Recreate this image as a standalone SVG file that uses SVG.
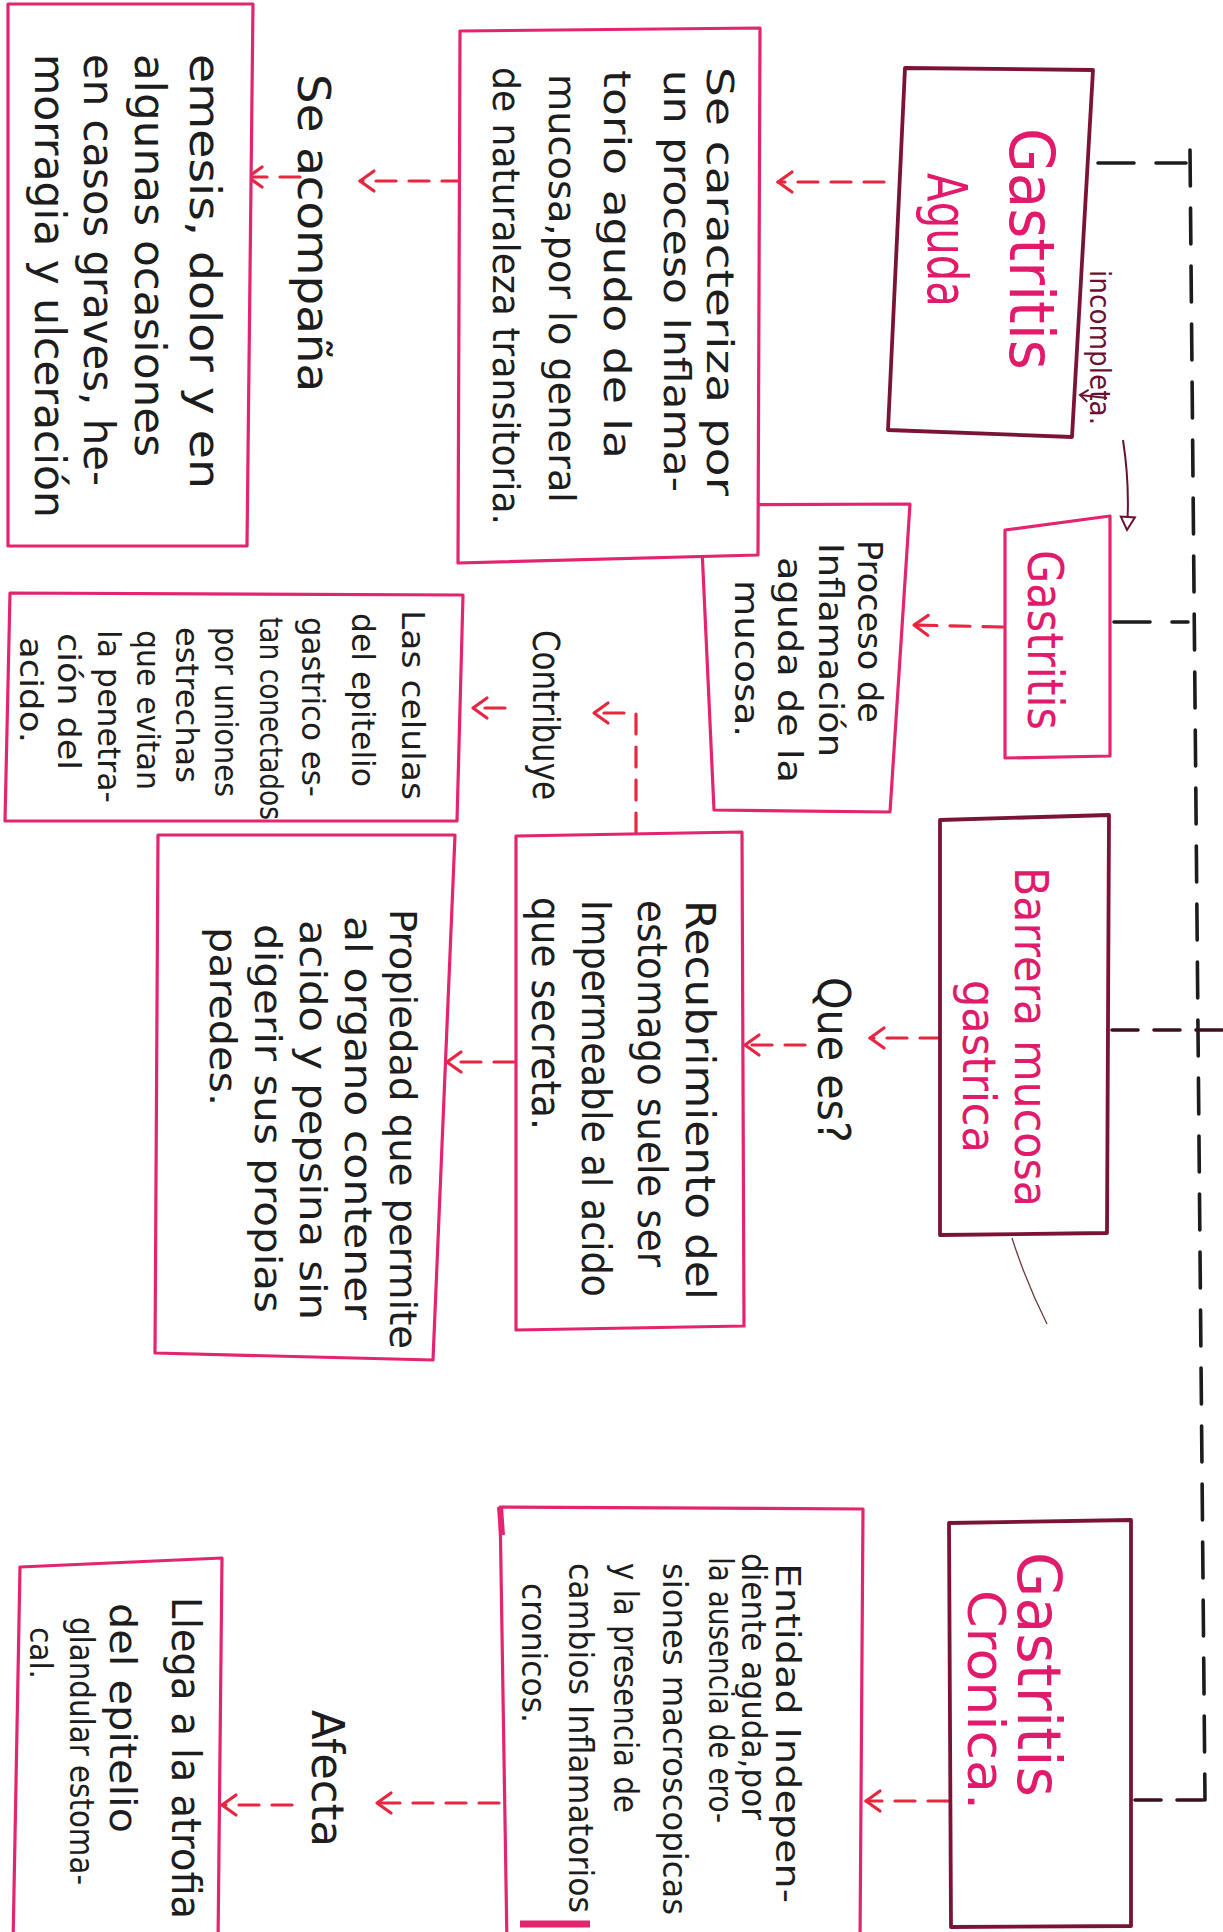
<svg xmlns="http://www.w3.org/2000/svg" width="1223" height="1932" viewBox="0 0 1223 1932">
<defs>
<style>
.bx{fill:#fff;stroke:#e3246e;stroke-width:3.2;stroke-linejoin:round}
.bm{fill:#fff;stroke:#7b1434;stroke-width:3.8;stroke-linejoin:round}
.t{font-family:"DejaVu Sans",sans-serif;fill:#1d1d1d}
.h{font-family:"DejaVu Sans",sans-serif;fill:#e21a6b}
.ra{fill:none;stroke:#e8263f;stroke-width:3.2;stroke-dasharray:20 13;stroke-linecap:round;marker-end:url(#ah)}
.bd{fill:none;stroke:#1c1c1c;stroke-width:3.6;stroke-dasharray:36 22;stroke-linecap:round}
.md{fill:none;stroke:#3a1020;stroke-width:3.6;stroke-dasharray:26 16;stroke-linecap:round}
</style>
<marker id="ah" markerUnits="userSpaceOnUse" markerWidth="26" markerHeight="26" refX="20" refY="13" orient="auto"><path d="M6,3 L20,13 L6,23" fill="none" stroke="#e8263f" stroke-width="3.2" stroke-linecap="round" stroke-linejoin="round"/></marker>
<marker id="tri" markerUnits="userSpaceOnUse" markerWidth="20" markerHeight="20" refX="16" refY="10" orient="auto"><path d="M3,3 L16,10 L3,17 Z" fill="#fff" stroke="#6b1030" stroke-width="2"/></marker>
<marker id="sm" markerUnits="userSpaceOnUse" markerWidth="16" markerHeight="16" refX="12" refY="8" orient="auto"><path d="M4,2 L12,8 L4,14" fill="none" stroke="#6b1030" stroke-width="2"/></marker>
</defs>
<rect x="0" y="0" width="1223" height="1932" fill="#fff"/>

<g id="connectors">
<path class="bd" d="M1190,150 L1205,1800"/>
<path class="bd" d="M1098,163 L1186,163"/>
<path class="bd" d="M1114,622 L1188,622"/>
<path class="md" d="M1112,1030 L1223,1030"/>
<path class="md" d="M1135,1800 L1203,1800"/>
<path class="ra" d="M884,182 L778,182"/>
<path class="ra" d="M462,181 L360,181"/>
<path class="ra" d="M300,177 L248,177"/>
<path class="ra" d="M1003,627 L914,625"/>
<path class="ra" d="M636,833 L636,713 L594,713"/>
<path class="ra" d="M505,708 L473,708"/>
<path class="ra" d="M940,1038 L870,1038"/>
<path class="ra" d="M805,1045 L745,1045"/>
<path class="ra" d="M514,1062 L447,1062"/>
<path class="ra" d="M948,1801 L866,1801"/>
<path class="ra" d="M499,1803 L377,1803"/>
<path class="ra" d="M292,1805 L222,1805"/>
<path d="M1123,440 Q1130,485 1127,530" fill="none" stroke="#6b1030" stroke-width="2" marker-end="url(#tri)"/>
<path d="M1107,398 L1080,395" fill="none" stroke="#6b1030" stroke-width="2" marker-end="url(#sm)"/>
<path d="M1012,1238 Q1026,1282 1047,1324" fill="none" stroke="#6b3a3a" stroke-width="1.3"/>
</g>

<g id="n-emesis">
<path class="bx" d="M8,4 L253,4 L247,546 L8,546 Z"/>
<text class="t" x="190" y="54" font-size="42" textLength="435" lengthAdjust="spacingAndGlyphs" transform="rotate(90 190 54)">emesis, dolor y en</text>
<text class="t" x="135" y="54" font-size="42" textLength="403" lengthAdjust="spacingAndGlyphs" transform="rotate(90 135 54)">algunas ocasiones</text>
<text class="t" x="84" y="54" font-size="42" textLength="432" lengthAdjust="spacingAndGlyphs" transform="rotate(90 84 54)">en casos graves, he-</text>
<text class="t" x="35" y="54" font-size="42" textLength="464" lengthAdjust="spacingAndGlyphs" transform="rotate(90 35 54)">morragia y ulceración</text>
</g>

<g id="l-acompana">
<text class="t" x="298" y="74" font-size="44" textLength="318" lengthAdjust="spacingAndGlyphs" transform="rotate(90 298 74)">Se acompaña</text>
</g>

<g id="n-proceso">
<path class="bx" d="M700,505 L910,504 L890,812 L714,810 Z"/>
<text class="t" x="858" y="540" font-size="34" textLength="183" lengthAdjust="spacingAndGlyphs" transform="rotate(90 858 540)">Proceso de</text>
<text class="t" x="819" y="543" font-size="34" textLength="214" lengthAdjust="spacingAndGlyphs" transform="rotate(90 819 543)">Inflamación</text>
<text class="t" x="778" y="557" font-size="34" textLength="226" lengthAdjust="spacingAndGlyphs" transform="rotate(90 778 557)">aguda de la</text>
<text class="t" x="735" y="580" font-size="34" textLength="157" lengthAdjust="spacingAndGlyphs" transform="rotate(90 735 580)">mucosa.</text>
</g>

<g id="n-caracteriza">
<path class="bx" d="M460,31 L760,28 L758,555 L458,563 Z"/>
<text class="t" x="707" y="67" font-size="38" textLength="429" lengthAdjust="spacingAndGlyphs" transform="rotate(90 707 67)">Se caracteriza por</text>
<text class="t" x="664" y="70" font-size="38" textLength="422" lengthAdjust="spacingAndGlyphs" transform="rotate(90 664 70)">un proceso Inflama-</text>
<text class="t" x="604" y="70" font-size="38" textLength="389" lengthAdjust="spacingAndGlyphs" transform="rotate(90 604 70)">torio agudo de la</text>
<text class="t" x="549" y="74" font-size="38" textLength="429" lengthAdjust="spacingAndGlyphs" transform="rotate(90 549 74)">mucosa,por lo general</text>
<text class="t" x="493" y="67" font-size="38" textLength="458" lengthAdjust="spacingAndGlyphs" transform="rotate(90 493 67)">de naturaleza transitoria.</text>
</g>

<g id="n-aguda">
<path class="bm" d="M905,68 L1093,70 L1072,437 L888,430 Z"/>
<text class="h" x="1010" y="128" font-size="62" textLength="242" lengthAdjust="spacingAndGlyphs" transform="rotate(90 1010 128)">Gastritis</text>
<text class="h" x="928" y="173" font-size="56" textLength="134" lengthAdjust="spacingAndGlyphs" transform="rotate(90 928 173)">Aguda</text>
</g>

<g id="l-incompleta">
<text x="1090" y="270" font-size="28" textLength="155" lengthAdjust="spacingAndGlyphs" transform="rotate(90 1090 270)" style="font-family:'DejaVu Sans',sans-serif;fill:#6b1030">incompleta.</text>
</g>

<g id="n-gastritis">
<path class="bx" d="M1005,530 L1110,516 L1110,756 L1005,758 Z"/>
<text class="h" x="1028" y="550" font-size="50" textLength="180" lengthAdjust="spacingAndGlyphs" transform="rotate(90 1028 550)">Gastritis</text>
</g>

<g id="l-contribuye">
<text class="t" x="533" y="630" font-size="38" textLength="170" lengthAdjust="spacingAndGlyphs" transform="rotate(90 533 630)">Contribuye</text>
</g>

<g id="n-celulas">
<path class="bx" d="M10,593 L463,595 L457,821 L5,821 Z"/>
<text class="t" x="402" y="610" font-size="32" textLength="190" lengthAdjust="spacingAndGlyphs" transform="rotate(90 402 610)">Las celulas</text>
<text class="t" x="352" y="613" font-size="32" textLength="174" lengthAdjust="spacingAndGlyphs" transform="rotate(90 352 613)">del epitelio</text>
<text class="t" x="302" y="617" font-size="32" textLength="180" lengthAdjust="spacingAndGlyphs" transform="rotate(90 302 617)">gastrico es-</text>
<text class="t" x="260" y="617" font-size="32" textLength="203" lengthAdjust="spacingAndGlyphs" transform="rotate(90 260 617)">tan conectados</text>
<text class="t" x="215" y="627" font-size="32" textLength="170" lengthAdjust="spacingAndGlyphs" transform="rotate(90 215 627)">por uniones</text>
<text class="t" x="176" y="627" font-size="32" textLength="156" lengthAdjust="spacingAndGlyphs" transform="rotate(90 176 627)">estrechas</text>
<text class="t" x="137" y="630" font-size="32" textLength="160" lengthAdjust="spacingAndGlyphs" transform="rotate(90 137 630)">que evitan</text>
<text class="t" x="98" y="630" font-size="32" textLength="173" lengthAdjust="spacingAndGlyphs" transform="rotate(90 98 630)">la penetra-</text>
<text class="t" x="58" y="633" font-size="32" textLength="137" lengthAdjust="spacingAndGlyphs" transform="rotate(90 58 633)">ción del</text>
<text class="t" x="20" y="637" font-size="32" textLength="106" lengthAdjust="spacingAndGlyphs" transform="rotate(90 20 637)">acido.</text>
</g>

<g id="n-barrera">
<path class="bm" d="M940,820 L1109,815 L1107,1233 L940,1235 Z"/>
<text class="h" x="1015" y="867" font-size="46" textLength="340" lengthAdjust="spacingAndGlyphs" transform="rotate(90 1015 867)">Barrera mucosa</text>
<text class="h" x="963" y="980" font-size="46" textLength="173" lengthAdjust="spacingAndGlyphs" transform="rotate(90 963 980)">gastrica</text>
</g>

<g id="l-quees">
<text class="t" x="818" y="977" font-size="44" textLength="166" lengthAdjust="spacingAndGlyphs" transform="rotate(90 818 977)">Que es?</text>
</g>

<g id="n-recubrimiento">
<path class="bx" d="M516,836 L742,832 L744,1326 L516,1330 Z"/>
<text class="t" x="686" y="900" font-size="40" textLength="400" lengthAdjust="spacingAndGlyphs" transform="rotate(90 686 900)">Recubrimiento del</text>
<text class="t" x="638" y="900" font-size="40" textLength="367" lengthAdjust="spacingAndGlyphs" transform="rotate(90 638 900)">estomago suele ser</text>
<text class="t" x="582" y="900" font-size="40" textLength="397" lengthAdjust="spacingAndGlyphs" transform="rotate(90 582 900)">Impermeable al acido</text>
<text class="t" x="532" y="897" font-size="40" textLength="233" lengthAdjust="spacingAndGlyphs" transform="rotate(90 532 897)">que secreta.</text>
</g>

<g id="n-propiedad">
<path class="bx" d="M158,835 L455,835 L433,1360 L155,1353 Z"/>
<text class="t" x="390" y="909" font-size="38" textLength="440" lengthAdjust="spacingAndGlyphs" transform="rotate(90 390 909)">Propiedad que permite</text>
<text class="t" x="345" y="916" font-size="38" textLength="404" lengthAdjust="spacingAndGlyphs" transform="rotate(90 345 916)">al organo contener</text>
<text class="t" x="300" y="920" font-size="38" textLength="400" lengthAdjust="spacingAndGlyphs" transform="rotate(90 300 920)">acido y pepsina sin</text>
<text class="t" x="255" y="924" font-size="38" textLength="389" lengthAdjust="spacingAndGlyphs" transform="rotate(90 255 924)">digerir sus propias</text>
<text class="t" x="210" y="927" font-size="38" textLength="179" lengthAdjust="spacingAndGlyphs" transform="rotate(90 210 927)">paredes.</text>
</g>

<g id="n-cronica">
<path class="bm" d="M949,1523 L1131,1520 L1131,1926 L951,1927 Z"/>
<text class="h" x="1018" y="1552" font-size="60" textLength="245" lengthAdjust="spacingAndGlyphs" transform="rotate(90 1018 1552)">Gastritis</text>
<text class="h" x="968" y="1590" font-size="52" textLength="220" lengthAdjust="spacingAndGlyphs" transform="rotate(90 968 1590)">Cronica.</text>
</g>

<g id="n-entidad">
<path class="bx" d="M507,1945 L500,1507 L863,1509 L860,1945"/>
<path d="M500,1507 L502,1535" stroke="#e3246e" stroke-width="6" fill="none"/>
<path d="M520,1924 L590,1924" stroke="#e3246e" stroke-width="7" fill="none"/>
<text class="t" x="776" y="1563" font-size="33" textLength="340" lengthAdjust="spacingAndGlyphs" transform="rotate(90 776 1563)">Entidad Indepen-</text>
<text class="t" x="742" y="1553" font-size="33" textLength="267" lengthAdjust="spacingAndGlyphs" transform="rotate(90 742 1553)">diente aguda,por</text>
<text class="t" x="709" y="1557" font-size="33" textLength="266" lengthAdjust="spacingAndGlyphs" transform="rotate(90 709 1557)">la ausencia de ero-</text>
<text class="t" x="663" y="1563" font-size="33" textLength="352" lengthAdjust="spacingAndGlyphs" transform="rotate(90 663 1563)">siones macroscopicas</text>
<text class="t" x="614" y="1563" font-size="33" textLength="250" lengthAdjust="spacingAndGlyphs" transform="rotate(90 614 1563)">y la presencia de</text>
<text class="t" x="569" y="1563" font-size="33" textLength="350" lengthAdjust="spacingAndGlyphs" transform="rotate(90 569 1563)">cambios Inflamatorios</text>
<text class="t" x="522" y="1583" font-size="33" textLength="140" lengthAdjust="spacingAndGlyphs" transform="rotate(90 522 1583)">cronicos.</text>
</g>

<g id="l-afecta">
<text class="t" x="312" y="1710" font-size="44" textLength="137" lengthAdjust="spacingAndGlyphs" transform="rotate(90 312 1710)">Afecta</text>
</g>

<g id="n-llega">
<path class="bx" d="M13,1945 L20,1567 L222,1558 L218,1945"/>
<text class="t" x="172" y="1597" font-size="40" textLength="322" lengthAdjust="spacingAndGlyphs" transform="rotate(90 172 1597)">Llega a la atrofia</text>
<text class="t" x="110" y="1603" font-size="38" textLength="230" lengthAdjust="spacingAndGlyphs" transform="rotate(90 110 1603)">del epitelio</text>
<text class="t" x="70" y="1617" font-size="34" textLength="268" lengthAdjust="spacingAndGlyphs" transform="rotate(90 70 1617)">glandular estoma-</text>
<text class="t" x="30" y="1627" font-size="32" textLength="52" lengthAdjust="spacingAndGlyphs" transform="rotate(90 30 1627)">cal.</text>
</g>
</svg>
